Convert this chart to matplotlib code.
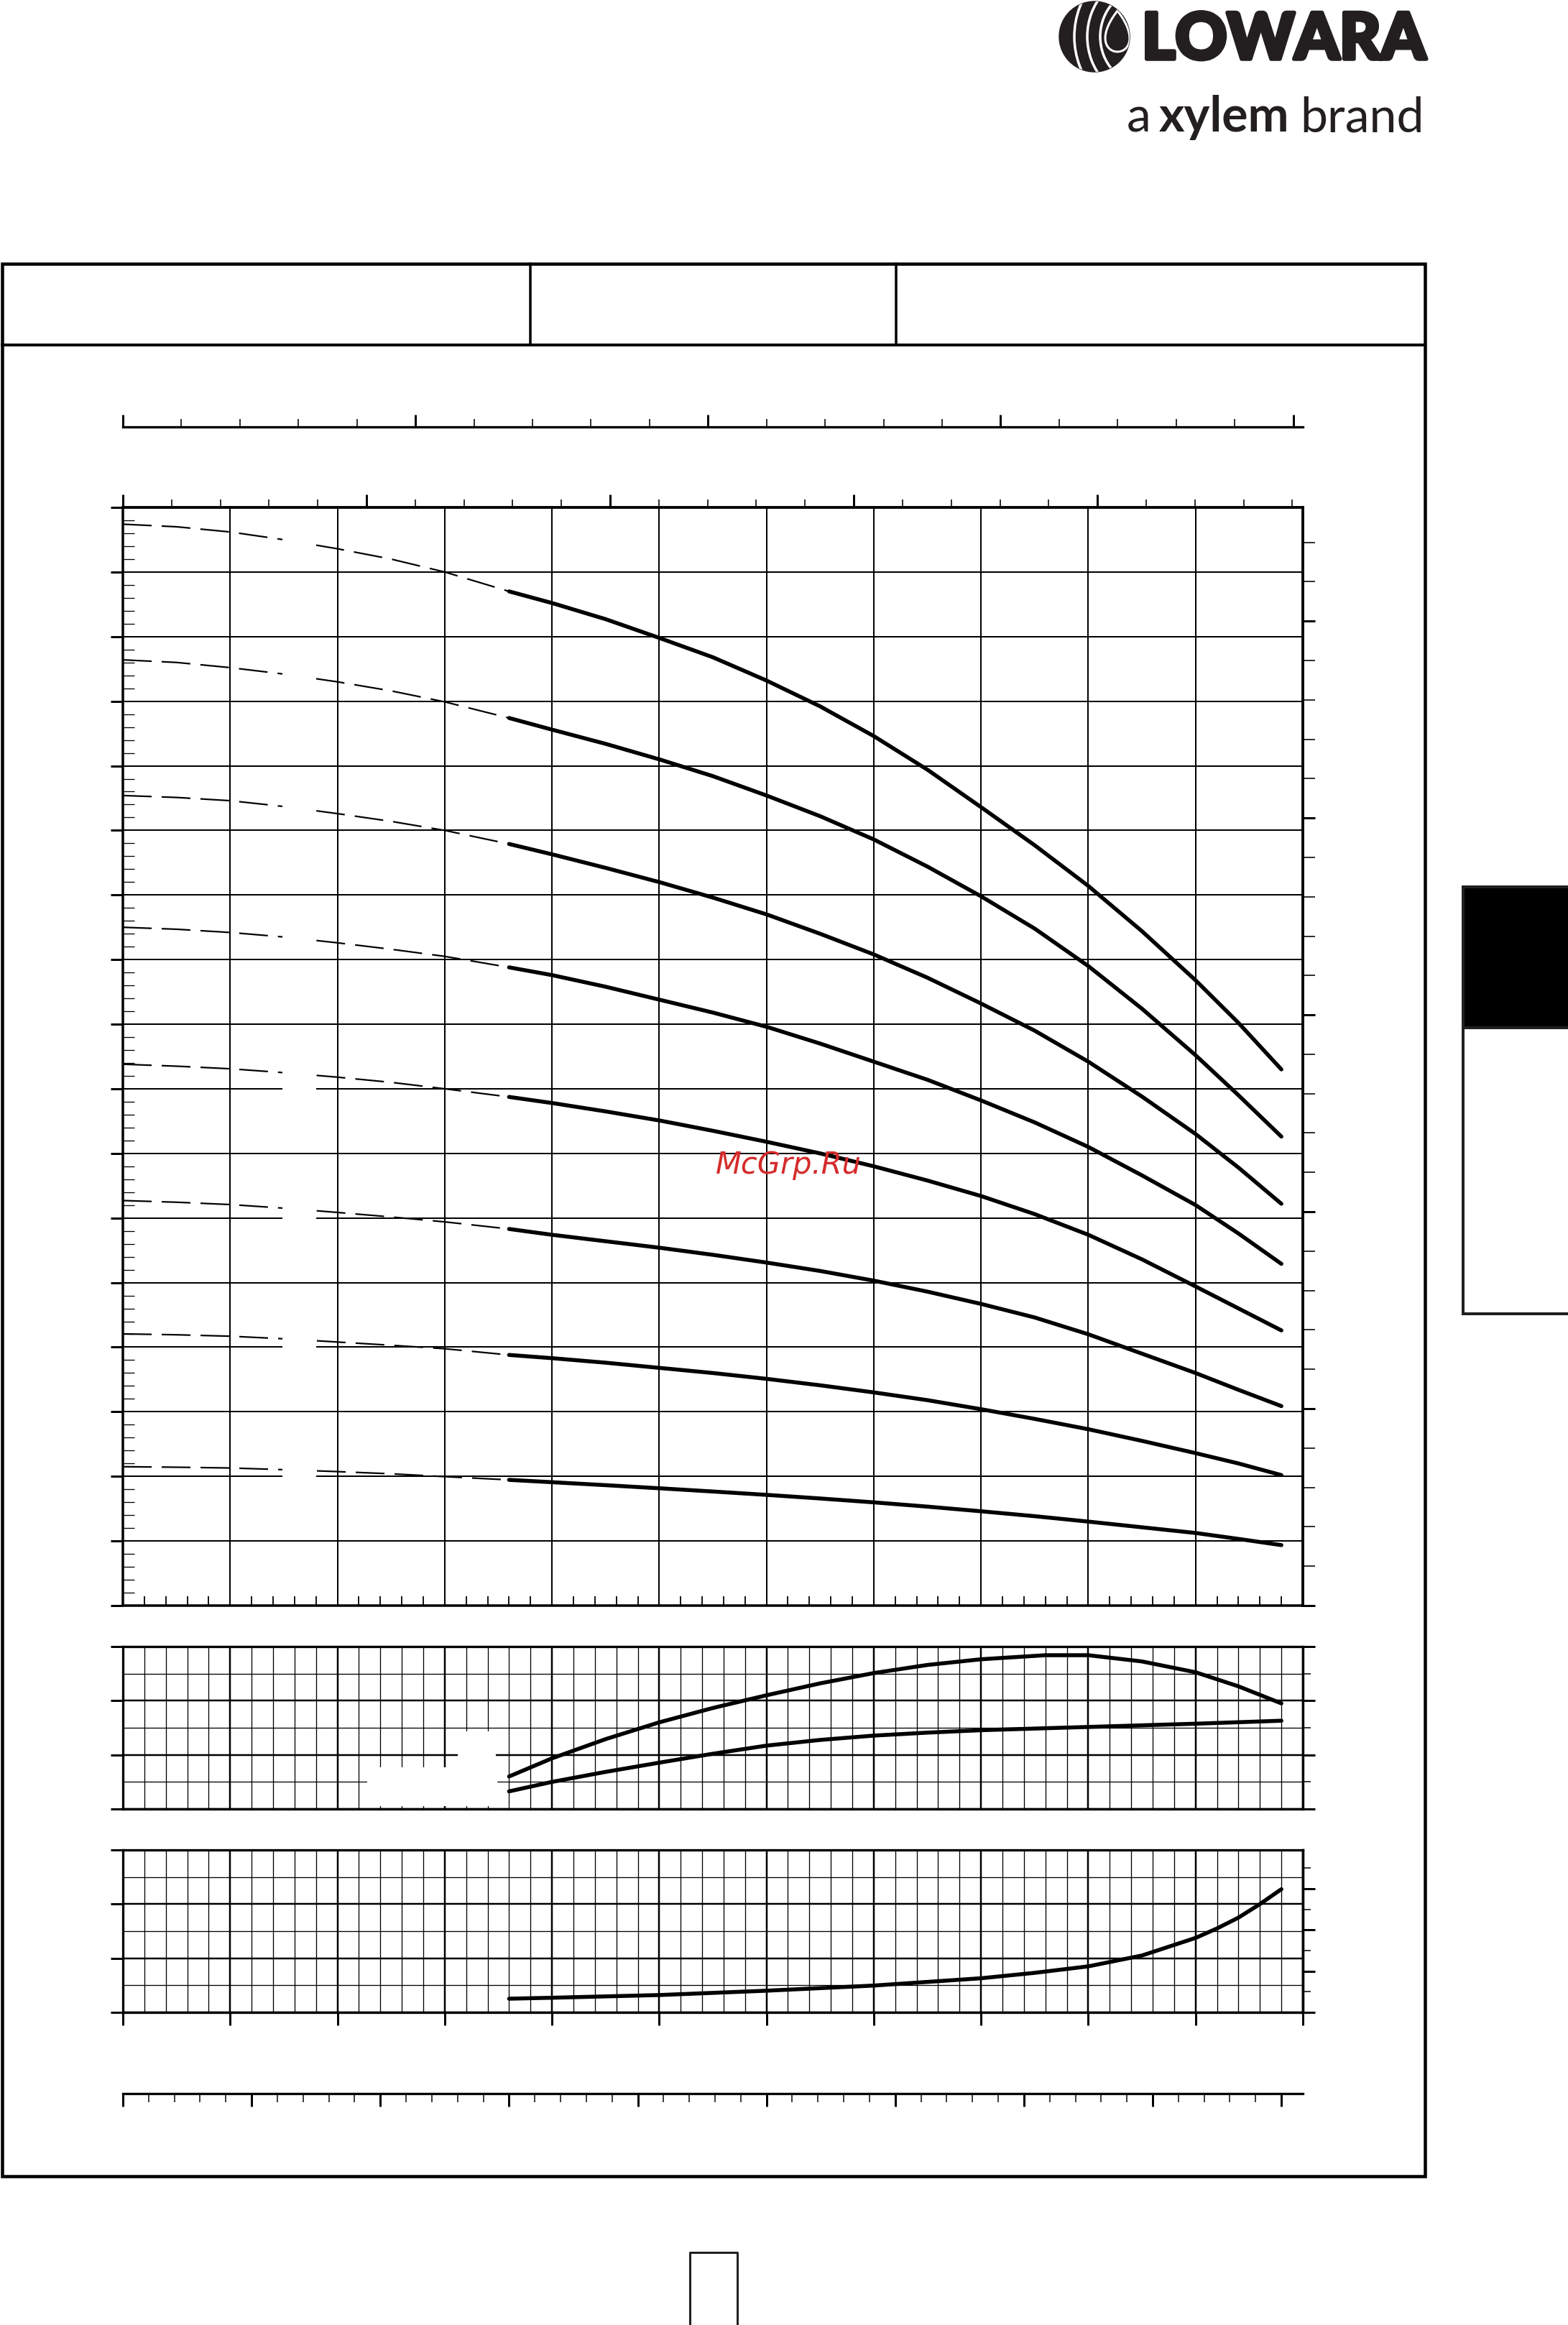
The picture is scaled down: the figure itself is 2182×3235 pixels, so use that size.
import numpy as np
import matplotlib
matplotlib.use("Agg")
import matplotlib.pyplot as plt
import matplotlib.patheffects as pe
from matplotlib.ticker import MultipleLocator, NullFormatter
from matplotlib.patches import Rectangle, Circle, Polygon, Arc

W, H = 2182, 3235
DPI = 100
PT = 72 / DPI  # points per pixel
plt.rcParams['lines.scale_dashes'] = False

# unit factors (per m3/h or per m)
US_GPM = 4.402868
IMP_GPM = 3.666154
L_MIN = 1000 / 60
FT = 3.28084
P_RIGHT = 7.616   # left units per right tick in the lower panel

# ---- data (flow in m3/h, head in m) ----
flow_dash = [0, 0.5, 1, 1.5, 2, 2.5, 3, 3.6]
flow_solid = [3.6, 4, 4.5, 5, 5.5, 6, 6.5, 7, 7.5, 8, 8.5, 9, 9.5, 10, 10.4, 10.8]

head_dash = [
    [83.7, 83.5, 83.1, 82.5, 81.8, 81.0, 80.0, 78.5],
    [73.2, 73.0, 72.6, 72.1, 71.5, 70.8, 69.95, 68.7],
    [62.7, 62.55, 62.3, 61.85, 61.3, 60.7, 60.0, 58.95],
    [52.5, 52.35, 52.1, 51.75, 51.3, 50.8, 50.25, 49.4],
    [41.9, 41.75, 41.55, 41.25, 40.9, 40.5, 40.0, 39.37],
    [31.35, 31.22, 31.04, 30.76, 30.43, 30.08, 29.7, 29.15],
    [21.03, 20.96, 20.85, 20.65, 20.4, 20.15, 19.88, 19.4],
    [10.75, 10.71, 10.65, 10.52, 10.37, 10.2, 9.98, 9.73],
]
head_solid = [
    [78.5, 77.6, 76.35, 74.9, 73.4, 71.6, 69.6, 67.3, 64.7, 61.8, 58.85, 55.7, 52.2, 48.4, 45.1, 41.5],
    [68.7, 67.8, 66.7, 65.5, 64.2, 62.7, 61.1, 59.3, 57.2, 54.9, 52.4, 49.5, 46.2, 42.6, 39.5, 36.3],
    [58.95, 58.15, 57.1, 56.0, 54.8, 53.5, 52.0, 50.4, 48.6, 46.6, 44.5, 42.1, 39.4, 36.5, 33.9, 31.1],
    [49.4, 48.8, 47.9, 46.9, 45.9, 44.8, 43.5, 42.1, 40.7, 39.1, 37.4, 35.5, 33.3, 31.0, 28.8, 26.45],
    [39.37, 38.9, 38.25, 37.55, 36.75, 35.9, 35.0, 34.0, 32.9, 31.7, 30.3, 28.7, 26.8, 24.7, 23.0, 21.3],
    [29.15, 28.7, 28.2, 27.7, 27.15, 26.55, 25.9, 25.15, 24.3, 23.35, 22.3, 21.0, 19.5, 18.0, 16.7, 15.44],
    [19.4, 19.15, 18.8, 18.4, 18.0, 17.55, 17.05, 16.5, 15.9, 15.2, 14.45, 13.65, 12.75, 11.8, 11.0, 10.1],
    [9.73, 9.55, 9.32, 9.08, 8.83, 8.57, 8.29, 7.99, 7.66, 7.3, 6.92, 6.5, 6.06, 5.62, 5.16, 4.68],
]

eff_flow = [3.6, 4, 4.5, 5, 5.5, 6, 6.5, 7, 7.5, 8, 8.6, 9, 9.5, 10, 10.4, 10.8]
eff_vals = [12.0, 18.7, 25.8, 32.0, 37.3, 42.0, 46.4, 50.2, 53.2, 55.3, 56.8, 56.8, 54.5, 50.5, 45.3, 39.0]

pow_flow = [3.6, 4, 4.5, 5, 5.5, 6, 6.5, 7, 7.5, 8, 9, 10, 10.8]
pow_vals = [6.5, 10.0, 13.7, 17.1, 20.4, 23.4, 25.5, 27.1, 28.2, 29.1, 30.3, 31.5, 32.6]

npsh_flow = [3.6, 4, 5, 6, 7, 8, 8.5, 9, 9.5, 10, 10.2, 10.4, 10.6, 10.8]
npsh_vals = [5.05, 5.4, 6.4, 8.0, 9.9, 12.6, 14.6, 17.0, 21.0, 27.5, 31.0, 35.0, 40.0, 45.5]

fig = plt.figure(figsize=(W / DPI, H / DPI), dpi=DPI)


def px_axes(x0, y0, x1, y1):
    return fig.add_axes([x0 / W, 1 - y1 / H, (x1 - x0) / W, (y1 - y0) / H])


# page layer in pixel coordinates
page = fig.add_axes([0, 0, 1, 1])
page.set_xlim(0, W)
page.set_ylim(H, 0)
page.axis('off')

# frame and header boxes
page.add_patch(Rectangle((3, 367), 1980, 2661, fill=False, ec='black', lw=4.5 * PT))
page.plot([3, 1983], [480, 480], color='black', lw=4 * PT)
page.plot([738, 738], [367, 480], color='black', lw=3.5 * PT)
page.plot([1247, 1247], [367, 480], color='black', lw=3.5 * PT)

# side tab
page.add_patch(Rectangle((2036, 1234), 160, 196, fc='black', ec='#231f20', lw=4 * PT))
page.add_patch(Rectangle((2036, 1430), 160, 398, fc='white', ec='#231f20', lw=4 * PT))

# page number box
page.plot([960, 960, 1026, 1026], [3240, 3134, 3134, 3240], color='#231f20', lw=3 * PT)

# logo
icon = Circle((1523, 51), 49, color='#231f20')
page.add_patch(icon)
for rr in (60, 78, 96):
    a = Arc((1591, 51), 2 * rr, 2.2 * rr, color='white', lw=3.5 * PT)
    page.add_patch(a)
    a.set_clip_path(icon)
t = np.linspace(0, 2 * np.pi, 80)
drop = Polygon(np.column_stack([1555 + 22 * np.sin(t) * np.sin(t / 2),
                                43.5 - 28.5 * np.cos(t)]),
               closed=True, fc='#231f20', ec='white', lw=3 * PT)
page.add_patch(drop)
drop.set_clip_path(icon)
page.text(1984, 82, 'LOWARA', ha='right', va='baseline', fontsize=64,
          family='Lato', fontweight='black', color='#231f20',
          path_effects=[pe.withStroke(linewidth=4, foreground='#231f20')])
page.text(1568, 183, 'a', ha='left', va='baseline', fontsize=49,
          family='Lato', color='#231f20')
page.text(1613, 183, 'xylem', ha='left', va='baseline', fontsize=49,
          family='Lato', fontweight='bold', color='#231f20')
page.text(1809, 183, 'brand', ha='left', va='baseline', fontsize=49,
          family='Lato', color='#231f20')

# watermark (figure level, drawn above all axes)
fig.text(1097 / W, 1 - 1633 / H, 'McGrp.Ru', ha='center', va='baseline', fontsize=30,
         style='italic', family='DejaVu Sans', color='#d52b2b', zorder=10)

# ---- top Imp gpm scale ----
axI = px_axes(171, 593, 1813, 594)
axI.set_xlim(0, 11 * IMP_GPM)
axI.patch.set_visible(False)
for s in ('top', 'left', 'right'):
    axI.spines[s].set_visible(False)
axI.spines['bottom'].set_linewidth(3.3 * PT)
axI.xaxis.set_major_locator(MultipleLocator(10))
axI.xaxis.set_minor_locator(MultipleLocator(2))
axI.tick_params(axis='x', which='major', direction='in', length=17 * PT, width=3 * PT, labelbottom=False)
axI.tick_params(axis='x', which='minor', direction='in', length=10.7 * PT, width=1.6 * PT)
axI.set_yticks([])

# ---- main head chart ----
ax = px_axes(171, 706, 1813, 2234)
ax.set_xlim(0, 11)
ax.set_ylim(0, 85)
ax.xaxis.set_major_locator(MultipleLocator(1))
ax.xaxis.set_minor_locator(MultipleLocator(0.2))
ax.yaxis.set_major_locator(MultipleLocator(5))
ax.yaxis.set_minor_locator(MultipleLocator(1))
ax.grid(True, which='major', color='black', lw=2 * PT)
ax.tick_params(which='both', labelleft=False, labelbottom=False)
ax.tick_params(axis='y', which='major', direction='out', length=17 * PT, width=3 * PT)
ax.tick_params(axis='y', which='minor', direction='in', length=16 * PT, width=1.3 * PT)
ax.tick_params(axis='x', which='major', length=0)
ax.tick_params(axis='x', which='minor', direction='in', length=13 * PT, width=1.8 * PT)
for s in ax.spines.values():
    s.set_linewidth(3.5 * PT)

top = ax.secondary_xaxis('top', functions=(lambda q: q * US_GPM, lambda g: g / US_GPM))
top.xaxis.set_major_locator(MultipleLocator(10))
top.xaxis.set_minor_locator(MultipleLocator(2))
top.xaxis.set_major_formatter(NullFormatter())
top.xaxis.set_minor_formatter(NullFormatter())
top.tick_params(which='major', direction='out', length=17.7 * PT, width=3 * PT)
top.tick_params(which='minor', direction='out', length=10.7 * PT, width=1.6 * PT)
top.spines['top'].set_linewidth(3.5 * PT)

right = ax.secondary_yaxis('right', functions=(lambda m: m * FT, lambda f: f / FT))
right.yaxis.set_major_locator(MultipleLocator(50))
right.yaxis.set_minor_locator(MultipleLocator(10))
right.yaxis.set_major_formatter(NullFormatter())
right.yaxis.set_minor_formatter(NullFormatter())
right.tick_params(which='major', direction='out', length=17 * PT, width=3 * PT)
right.tick_params(which='minor', direction='out', length=17 * PT, width=1.6 * PT)
right.spines['right'].set_linewidth(3.5 * PT)

for hd, hs in zip(head_dash, head_solid):
    ax.plot(flow_dash, hd, color='black', lw=2.2 * PT, dashes=(28.8, 10.1), zorder=2)
    ax.plot(flow_solid, hs, color='black', lw=5.5 * PT, solid_capstyle='round',
            solid_joinstyle='round', zorder=3)
    # blank label boxes on the dashed part
    hm = np.interp(1.65, flow_dash, hd)
    ax.add_patch(Rectangle((1.49, hm - 1.45), 0.31, 2.12, fc='white', ec='none', zorder=2.5))


def small_panel(y0, y1):
    a = px_axes(171, y0, 1813, y1)
    a.set_xlim(0, 11)
    a.set_ylim(0, 60)
    a.xaxis.set_major_locator(MultipleLocator(1))
    a.xaxis.set_minor_locator(MultipleLocator(0.2))
    a.yaxis.set_major_locator(MultipleLocator(20))
    a.yaxis.set_minor_locator(MultipleLocator(10))
    a.grid(True, which='major', color='black', lw=2.5 * PT)
    a.grid(True, which='minor', color='black', lw=1.3 * PT)
    a.tick_params(which='both', labelleft=False, labelbottom=False, labelright=False)
    a.tick_params(axis='x', which='both', bottom=False, top=False)
    a.tick_params(axis='y', which='major', left=True, direction='out', length=17 * PT, width=3 * PT)
    a.tick_params(axis='y', which='minor', left=False)
    for s in a.spines.values():
        s.set_linewidth(3.3 * PT)
    return a


# ---- efficiency / power panel ----
axB = small_panel(2291, 2517)
axB.tick_params(axis='y', which='major', right=True)
axB.tick_params(axis='y', which='minor', right=True, direction='out', length=11 * PT, width=1.5 * PT)
axB.add_patch(Rectangle((2.28, 1.1), 1.21, 14.3, fc='white', ec='none', zorder=1.8))
axB.add_patch(Rectangle((3.12, 15.0), 0.36, 13.7, fc='white', ec='none', zorder=1.8))
axB.plot(eff_flow, eff_vals, color='black', lw=5.5 * PT, solid_capstyle='round',
         solid_joinstyle='round', zorder=3)
axB.plot(pow_flow, pow_vals, color='black', lw=5.5 * PT, solid_capstyle='round',
         solid_joinstyle='round', zorder=3)

# ---- NPSH panel ----
axC = small_panel(2574, 2800)
axC.tick_params(axis='x', which='major', bottom=True, direction='out', length=18 * PT, width=3 * PT)
secC = axC.secondary_yaxis('right', functions=(lambda y: y / P_RIGHT, lambda r: r * P_RIGHT))
secC.yaxis.set_major_locator(MultipleLocator(2))
secC.yaxis.set_minor_locator(MultipleLocator(1))
secC.yaxis.set_major_formatter(NullFormatter())
secC.yaxis.set_minor_formatter(NullFormatter())
secC.tick_params(which='major', direction='out', length=17 * PT, width=3 * PT)
secC.tick_params(which='minor', direction='out', length=11 * PT, width=1.5 * PT)
secC.spines['right'].set_linewidth(3.3 * PT)
axC.plot(npsh_flow, npsh_vals, color='black', lw=5.5 * PT, solid_capstyle='round',
         solid_joinstyle='round', zorder=3)

# ---- bottom l/min scale ----
axL = px_axes(171, 2912, 1813, 2913)
axL.set_xlim(0, 11 * L_MIN)
axL.patch.set_visible(False)
for s in ('top', 'left', 'right'):
    axL.spines[s].set_visible(False)
axL.spines['bottom'].set_linewidth(3.3 * PT)
axL.xaxis.set_major_locator(MultipleLocator(20))
axL.xaxis.set_minor_locator(MultipleLocator(4))
axL.tick_params(axis='x', which='major', direction='out', length=18 * PT, width=3 * PT, labelbottom=False)
axL.tick_params(axis='x', which='minor', direction='out', length=12 * PT, width=1.5 * PT)
axL.set_yticks([])

fig.savefig('out.png', dpi=DPI)
